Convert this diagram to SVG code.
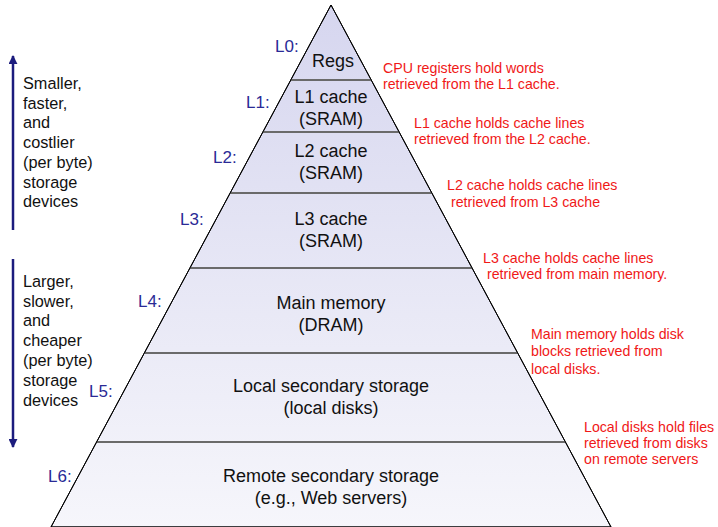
<svg xmlns="http://www.w3.org/2000/svg" width="718" height="527" viewBox="0 0 718 527">
<defs>
<linearGradient id="fillg" x1="0" y1="0" x2="0" y2="1">
<stop offset="0" stop-color="#d6d6ef"/>
<stop offset="1" stop-color="#f6f6fb"/>
</linearGradient>
<marker id="ah" viewBox="0 0 10 10" refX="9" refY="5" markerWidth="3.6" markerHeight="3.6" orient="auto" markerUnits="strokeWidth">
<path d="M0,0 L10,5 L0,10 z" fill="#1c1c7e"/>
</marker>
<style>
.t{font-family:"Liberation Sans",Arial,sans-serif;font-size:18px;fill:#111;text-anchor:middle}
.lv{font-family:"Liberation Sans",Arial,sans-serif;font-size:17px;fill:#2a2a96}
.r{font-family:"Liberation Sans",Arial,sans-serif;font-size:14.2px;fill:#f01818}
.s{font-family:"Liberation Sans",Arial,sans-serif;font-size:16.3px;fill:#111}
.b{stroke:#6a6a6a;stroke-width:2}
.ar{stroke:#1c1c7e;stroke-width:2.5;fill:none}
</style>
</defs>
<rect width="718" height="527" fill="#fff"/>
<g id="pyramid">
<polygon points="331,5 611,527 51,527" fill="url(#fillg)" stroke="#000" stroke-width="1"/>
<line class="b" x1="290.8" y1="80" x2="371.2" y2="80"/>
<line class="b" x1="262.9" y1="132" x2="399.1" y2="132"/>
<line class="b" x1="230.2" y1="193" x2="431.8" y2="193"/>
<line class="b" x1="190" y1="268" x2="472" y2="268"/>
<line class="b" x1="144.5" y1="353" x2="517.5" y2="353"/>
<line class="b" x1="96.8" y1="442" x2="565.2" y2="442"/>
<polygon points="331,5 611,527 51,527" fill="none" stroke="#000" stroke-width="1"/>
</g>
<g id="L0">
<text class="lv" x="275" y="52">L0:</text>
<text class="t" x="333" y="67">Regs</text>
<text class="r" x="383" y="73">CPU registers hold words</text>
<text class="r" x="383" y="89">retrieved from the L1 cache.</text>
</g>
<g id="L1">
<text class="lv" x="246" y="108">L1:</text>
<text class="t" x="331" y="103">L1 cache</text>
<text class="t" x="331" y="125">(SRAM)</text>
<text class="r" x="414" y="128">L1 cache holds cache lines</text>
<text class="r" x="414" y="144">retrieved from the L2 cache.</text>
</g>
<g id="L2">
<text class="lv" x="213" y="163">L2:</text>
<text class="t" x="331" y="157">L2 cache</text>
<text class="t" x="331" y="179">(SRAM)</text>
<text class="r" x="447" y="190">L2 cache holds cache lines</text>
<text class="r" x="451" y="207">retrieved from L3 cache</text>
</g>
<g id="L3">
<text class="lv" x="180" y="225">L3:</text>
<text class="t" x="331" y="225">L3 cache</text>
<text class="t" x="331" y="247">(SRAM)</text>
<text class="r" x="483" y="263">L3 cache holds cache lines</text>
<text class="r" x="487" y="279">retrieved from main memory.</text>
</g>
<g id="L4">
<text class="lv" x="138" y="307">L4:</text>
<text class="t" x="331" y="309">Main memory</text>
<text class="t" x="331" y="331">(DRAM)</text>
<text class="r" x="531" y="339">Main memory holds disk</text>
<text class="r" x="531" y="356">blocks retrieved from</text>
<text class="r" x="531" y="374">local disks.</text>
</g>
<g id="L5">
<text class="lv" x="89" y="397">L5:</text>
<text class="t" x="331" y="392">Local secondary storage</text>
<text class="t" x="331" y="414">(local disks)</text>
<text class="r" x="584" y="432">Local disks hold files</text>
<text class="r" x="584" y="448">retrieved from disks</text>
<text class="r" x="584" y="464">on remote servers</text>
</g>
<g id="L6">
<text class="lv" x="48" y="482">L6:</text>
<text class="t" x="331" y="482">Remote secondary storage</text>
<text class="t" x="331" y="504">(e.g., Web servers)</text>
</g>
<g id="side-top">
<text class="s" x="23" y="89">Smaller,</text>
<text class="s" x="23" y="109">faster,</text>
<text class="s" x="23" y="128">and</text>
<text class="s" x="23" y="148">costlier</text>
<text class="s" x="23" y="168">(per byte)</text>
<text class="s" x="23" y="188">storage</text>
<text class="s" x="23" y="207">devices</text>
</g>
<g id="side-bottom">
<text class="s" x="23" y="287">Larger,</text>
<text class="s" x="23" y="307">slower,</text>
<text class="s" x="23" y="326">and</text>
<text class="s" x="23" y="346">cheaper</text>
<text class="s" x="23" y="366">(per byte)</text>
<text class="s" x="23" y="386">storage</text>
<text class="s" x="23" y="406">devices</text>
</g>
<g id="connectors">
<line class="ar" x1="13" y1="230" x2="13" y2="56" marker-end="url(#ah)"/>
<line class="ar" x1="13" y1="259" x2="13" y2="447" marker-end="url(#ah)"/>
</g>
</svg>
